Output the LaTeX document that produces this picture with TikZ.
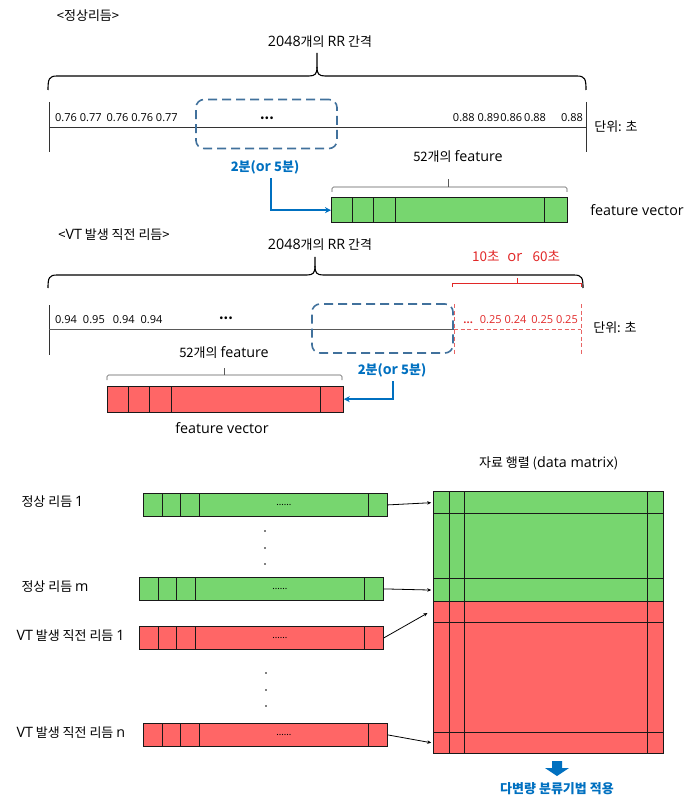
\documentclass[tikz,border=0pt]{standalone}
\usepackage{fontspec}
\setmainfont{Noto Sans CJK KR}
\newfontfamily\lat[Scale=1.1]{Open Sans}
\usetikzlibrary{arrows.meta, positioning, matrix}
\definecolor{mygreen}{RGB}{119,214,111}
\definecolor{myred}{RGB}{255,102,102}
\definecolor{winblue}{RGB}{65,113,156}
\definecolor{textblue}{RGB}{0,112,192}
\definecolor{alertred}{RGB}{225,40,40}
\definecolor{dashred}{RGB}{232,100,100}

\begin{document}
\fontsize{13}{16}\selectfont
\begin{tikzpicture}[x=1pt, y=-1pt,
    num/.style={font=\fontsize{10}{11}\selectfont\lat, inner sep=0pt},
    winbox/.style={draw=winblue, line width=1.6pt, dash pattern=on 9pt off 5pt, rounded corners=8pt, minimum width=141pt, minimum height=49pt},
    winlabel/.style={text=textblue, font=\bfseries},
    bigbrace/.style={line width=1.1pt},
    smallbrace/.style={black!65, line width=0.6pt, rounded corners=1.5pt},
    numline/.style={black!80, line width=0.8pt},
    reddash/.style={dashred, line width=0.8pt, dash pattern=on 4pt off 2.5pt},
    bluearrow/.style={textblue, line width=1.6pt, -{Stealth[length=6pt,width=6pt]}},
    rowarrow/.style={line width=0.8pt, -{Stealth[length=4pt,width=3.5pt]}, shorten >=2pt},
    fbar/.style={matrix of nodes, nodes in empty cells, anchor=north west, inner sep=0pt, outer sep=0pt,
        row sep=-0.8pt, column sep=-0.8pt,
        nodes={draw=black!90, line width=0.8pt, inner sep=0pt, anchor=center, font=\fontsize{9}{10}\selectfont}},
    greenbar/.style={fbar, nodes={fill=mygreen}},
    redbar/.style={fbar, nodes={fill=myred}},
    topcols/.style={nodes={minimum height=25.5pt},
        column 1/.style={nodes={minimum width=21pt}}, column 2/.style={nodes={minimum width=21pt}},
        column 3/.style={nodes={minimum width=22pt}}, column 4/.style={nodes={minimum width=149pt}},
        column 5/.style={nodes={minimum width=23pt}}},
    rowcols/.style={nodes={minimum height=23pt},
        column 1/.style={nodes={minimum width=19pt}}, column 2/.style={nodes={minimum width=18pt}},
        column 3/.style={nodes={minimum width=19pt}}, column 4/.style={nodes={minimum width=169pt}},
        column 5/.style={nodes={minimum width=19pt}}}]
    \useasboundingbox (0,0) rectangle (691,799);

    % normal rhythm
    \node (title1) at (88,16) {<정상리듬>};
    \node (rr1) at (320,42) {{\lat 2048}개의 {\lat RR} 간격};
    \draw[bigbrace] (48,90) .. controls (48,79) and (49,76) .. (57,76) -- (309,76)
        .. controls (315,76) and (317,74) .. (317,67) -- (317,53);
    \draw[bigbrace] (317,67) .. controls (317,74) and (319,76) .. (325,76) -- (577,76)
        .. controls (585,76) and (586,79) .. (586,90);
    \draw[numline] (49,102) -- (49,152);
    \draw[numline] (49,127) -- (586,127);
    \draw[numline] (586,102) -- (586,152);
    \node[num, anchor=west] (nl1) at (55,118) {0.76 0.77\hspace{5pt}0.76 0.76 0.77};
    \node[num, anchor=east] (nr1) at (583,118) {0.88 0.89\hspace{1pt}0.86\hspace{2pt}0.88\hspace{15pt}0.88};
    \node (unit1) at (616,127) {단위: 초};
    \node[winbox] (win1) at (266.5,124) {};
    \node[font=\bfseries] (dots1) at (267,118) {...};
    \node[winlabel] (win1lbl) at (265,167) {2분({\lat or} 5분)};

    % feature vector (normal)
    \node (feat1) at (458,157) {52개의 {\lat feature}};
    \draw[smallbrace] (332,192) -- (332,187) -- (567,187) -- (567,192);
    \draw[smallbrace] (448,187) -- (448,179);
    \matrix[greenbar, topcols] (fv1) at (331,197) { & & & & \\ };
    \node (fvlbl1) at (637,210) {{\lat feature vector}};
    \draw[bluearrow] ([xshift=6pt]win1lbl.south) |- (fv1.west);

    % rhythm just before VT
    \node (title2) at (114,235) {<{\lat VT} 발생 직전 리듬>};
    \node (rr2) at (320,245) {{\lat 2048}개의 {\lat RR} 간격};
    \node[text=alertred, font=\fontsize{13.5}{16}\selectfont] (sec) at (516,256) {10초\hspace{8pt}{\lat or}\hspace{10pt}60초};
    \draw[bigbrace] (48,288) .. controls (48,278) and (49,275) .. (57,275) -- (307,275)
        .. controls (313,275) and (315,273) .. (315,266) -- (315,257);
    \draw[bigbrace] (315,266) .. controls (315,273) and (317,275) .. (323,275) -- (574,275)
        .. controls (582,275) and (583,278) .. (583,288);
    \draw[alertred, line width=1pt] (452,287) -- (452,283) -- (581,283) -- (581,287);
    \draw[alertred, line width=1pt] (517,283) -- (517,278);
    \draw[numline] (49,305) -- (49,355);
    \draw[numline, black!65] (49,329) -- (454,329);
    \draw[reddash] (454,329) -- (581,329);
    \draw[reddash] (454,304) -- (454,355);
    \draw[reddash] (581,304) -- (581,355);
    \node[num, anchor=west] (nl2) at (55,320) {0.94\hspace{6pt}0.95\hspace{8pt}0.94\hspace{6pt}0.94};
    \node[font=\bfseries] (dots2) at (226,318) {...};
    \node[num, anchor=east, text=alertred] (nr2) at (578,320) {\textbf{...}\hspace{7pt}0.25 0.24\hspace{5pt}0.25 0.25};
    \node (unit2) at (615,328) {단위: 초};
    \node[winbox] (win2) at (382.5,328.5) {};
    \node[winlabel] (win2lbl) at (392,370) {2분({\lat or} 5분)};

    % feature vector (VT)
    \node (feat2) at (224,353) {52개의 {\lat feature}};
    \draw[smallbrace] (107,380) -- (107,375) -- (342,375) -- (342,380);
    \draw[smallbrace] (224,375) -- (224,368);
    \matrix[redbar, topcols] (fv2) at (107,386) { & & & & \\ };
    \node (fvlbl2) at (222,428) {{\lat feature vector}};
    \draw[bluearrow] ([xshift=1pt]win2lbl.south) |- (fv2.east);

    % rows of the data matrix
    \node[anchor=west] (lg1) at (17,502) {정상 리듬 {\lat 1}};
    \matrix[greenbar, rowcols] (g1) at (143,493) { & & & ...... & \\ };
    \fill (265,531) circle (0.9pt);
    \fill (265,548) circle (0.9pt);
    \fill (265,564) circle (0.9pt);
    \node[anchor=west] (lgm) at (17,587) {정상 리듬 {\lat m}};
    \matrix[greenbar, rowcols] (gm) at (139,577) { & & & ...... & \\ };
    \node[anchor=west] (lr1) at (12,636) {{\lat VT} 발생 직전 리듬 {\lat 1}};
    \matrix[redbar, rowcols] (r1) at (139,626) { & & & ...... & \\ };
    \fill (266,673) circle (0.9pt);
    \fill (266,690) circle (0.9pt);
    \fill (266,706) circle (0.9pt);
    \node[anchor=west] (lrn) at (12,733) {{\lat VT} 발생 직전 리듬 {\lat n}};
    \matrix[redbar, rowcols] (rn) at (143,723) { & & & ...... & \\ };

    % data matrix
    \matrix[matrix of nodes, nodes in empty cells, anchor=north west, inner sep=0pt,
            row sep=-0.8pt, column sep=-0.8pt,
            nodes={draw=black!90, line width=0.8pt, inner sep=0pt, anchor=center},
            column 1/.style={nodes={minimum width=16pt}}, column 2/.style={nodes={minimum width=15pt}},
            column 3/.style={nodes={minimum width=183pt}}, column 4/.style={nodes={minimum width=16pt}},
            row 1/.style={nodes={fill=mygreen, minimum height=22pt}},
            row 2/.style={nodes={fill=mygreen, minimum height=65pt}},
            row 3/.style={nodes={fill=mygreen, minimum height=23pt}},
            row 4/.style={nodes={fill=myred, minimum height=21pt}},
            row 5/.style={nodes={fill=myred, minimum height=110pt}},
            row 6/.style={nodes={fill=myred, minimum height=21pt}}] (dm) at (433,491) {
        & & & \\
        & & & \\
        & & & \\
        & & & \\
        & & & \\
        & & & \\
    };
    \node[anchor=south] (dmtitle) at ([yshift=16pt]dm.north) {자료 행렬 ({\lat data matrix})};

    % Arrows
    \draw[rowarrow] (g1.east) -- (dm-1-1.west);
    \draw[rowarrow] (gm.east) -- (dm-3-1.west);
    \draw[rowarrow] (r1.east) -- ([xshift=-4pt]dm-4-1.west);
    \draw[rowarrow] (rn.east) -- (dm-6-1.west);

    \fill[textblue] (552,761) -- (562,761) -- (562,768) -- (569,768) -- (557,776) -- (545,768) -- (552,768) -- cycle;
    \node[text=textblue, font=\bfseries\fontsize{13}{15}\selectfont] (apply) at (557,789) {다변량 분류기법 적용};
\end{tikzpicture}
\end{document}
